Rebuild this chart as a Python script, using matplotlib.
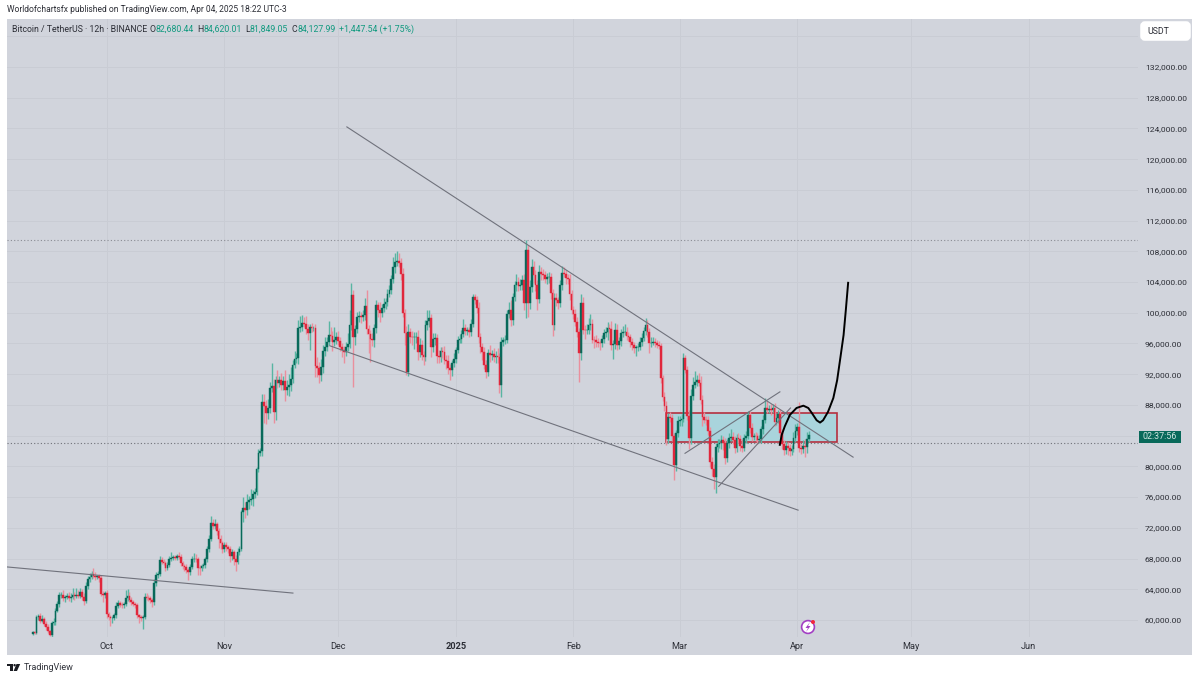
import numpy as np
import pandas as pd
import matplotlib
matplotlib.use('Agg')
import matplotlib.pyplot as plt
import matplotlib.dates as mdates
from matplotlib.patches import Rectangle, Circle, Polygon, FancyBboxPatch
from matplotlib.transforms import IdentityTransform

plt.rcParams['font.family'] = ['Roboto', 'DejaVu Sans']

# 12h closes, in thousands of USDT, month by month
closes_sep = [58.4,58.3,60.4,60.5,59.9,60.1,59.5,59.1,58.5,58.0,
              59.6,59.7,61.2,62.1,63.2,63.3,62.9,63.0,63.1,62.8,
              63.0,63.2,63.1,63.2,63.1,63.6,63.0,62.5,64.4,65.3,
              65.6,66.0,65.7,65.6,65.7,65.5,63.4,63.2,63.5]
closes_oct = [60.8,60.4,60.2,60.3,60.6,61.8,62.2,62.0,61.9,62.1,
              62.9,63.1,62.6,62.3,62.1,61.9,60.6,60.4,60.2,60.4,
              63.0,62.9,62.8,62.6,62.3,64.8,65.9,66.0,67.8,67.6,
              67.4,66.8,67.2,68.0,68.1,68.2,68.1,68.3,68.2,67.4,
              67.0,66.9,66.5,66.2,66.9,67.9,68.0,67.9,66.8,66.7,
              67.0,67.1,67.9,69.2,70.6,72.6,72.2,72.5,71.6,70.6,
              70.0,69.3]
closes_nov = [69.8,69.5,69.3,68.3,68.8,68.0,67.6,68.9,69.3,74.0,
              74.6,74.3,75.4,75.6,75.8,76.4,76.6,79.6,81.8,82.0,
              88.4,87.9,87.0,87.6,90.2,90.4,87.1,91.2,90.9,91.2,
              90.6,91.1,90.0,90.3,90.6,91.4,93.2,94.0,94.1,98.0,
              98.2,98.7,98.6,97.9,97.4,98.2,98.0,98.0,93.1,92.8,
              91.9,93.0,95.0,95.5,96.2,97.1,97.0,96.2,96.5,96.8]
closes_dec = [96.3,95.6,95.2,94.9,95.6,95.9,98.4,102.3,96.8,97.9,
              99.4,99.6,99.4,99.7,100.9,97.9,97.2,96.6,96.5,98.0,
              101.0,100.4,100.0,100.6,101.1,101.4,102.4,103.0,104.4,106.0,
              106.6,106.8,106.5,105.0,100.0,97.3,92.3,97.5,96.9,96.8,
              96.8,96.9,94.9,95.8,94.5,94.2,98.4,98.9,99.3,95.5,
              96.6,96.7,94.4,94.2,95.0,94.9,93.9,93.7,92.8,92.6,
              93.5,94.0]
closes_jan = [95.2,96.5,96.6,97.2,98.0,97.6,97.7,97.5,98.6,102.0,
              101.6,100.6,96.8,95.6,94.9,93.2,92.3,94.8,94.5,94.6,
              94.2,94.4,94.2,90.6,96.2,96.4,96.5,99.8,100.4,99.0,
              102.0,103.6,104.0,103.5,103.6,104.3,101.3,108.2,101.3,103.4,
              106.0,104.9,103.6,101.8,105.3,105.1,104.9,104.4,104.6,104.7,
              102.6,98.4,101.9,101.6,101.3,103.6,105.2,105.0,104.5,104.4,
              102.4,100.4]
closes_feb = [99.8,98.8,97.5,94.8,101.3,97.8,97.7,97.8,98.4,98.6,
              96.5,96.4,96.2,96.1,96.0,96.6,97.3,97.5,98.0,97.9,
              95.8,95.9,97.8,95.8,96.3,97.3,97.5,97.5,97.0,96.8,
              96.2,95.8,95.4,95.5,95.6,96.2,96.7,97.6,98.4,97.5,
              96.0,96.1,96.2,96.0,95.8,95.7,91.5,89.0,87.9,83.6,
              86.4,86.3,84.0,80.2,84.3,85.9]
closes_mar = [86.0,86.2,94.1,92.6,86.6,83.7,89.2,90.6,91.0,91.2,
              90.9,88.7,86.4,86.1,86.0,84.6,80.6,79.6,78.6,82.5,
              82.9,83.0,83.4,83.1,81.1,83.0,83.7,83.8,83.4,82.4,
              83.7,83.5,82.6,82.4,83.7,84.0,86.7,85.0,83.8,84.0,
              83.9,83.4,83.5,84.8,86.0,87.6,87.4,87.5,87.3,87.6,
              85.8,86.3,86.8,84.3,82.9,82.1,82.7,82.4,82.0,82.3,
              83.7,84.6]
closes_apr = [85.1,82.4,82.2,82.7,82.5,83.6,84.13]

# wick lengths above and below the candle body, same units
upper_sep = [.2,.2,.3,.3,.4,.5,.3,.3,.4,.2,
             .3,.5,.3,.4,.4,.3,.6,.3,.4,.5,
             .5,.9,.4,1.0,.7,.6,.4,.5,.5,.4,
             .5,.4,.8,.5,.2,.3,.3,.4,.3]
lower_sep = [.1,.1,.1,.4,.3,.2,.3,.4,.2,.1,
             .3,.3,.3,.2,.4,.3,.4,.5,.3,.3,
             .4,.3,.5,.3,.3,.2,.4,.5,.3,.4,
             .4,.3,.3,.4,.3,.5,.3,.8,.4]
upper_oct = [.4,.2,.3,.2,.3,.5,.4,.3,.3,.3,
             1.0,.9,.6,.4,.3,.3,.3,.2,.3,.3,
             .5,.5,.3,.3,.3,.5,.3,.4,.5,.4,
             .3,.3,.3,.3,.8,.3,.3,.3,.6,.4,
             .3,.3,.4,.3,.4,.4,.7,.6,.3,.3,
             .3,.3,.3,.4,.4,.9,.5,.6,.3,.4,
             .4,.3]
lower_oct = [.5,.4,1.0,.6,.3,.3,.3,.3,.3,.3,
             .3,.4,.3,.3,.3,.3,.3,.8,.4,1.4,
             .3,.3,.3,.4,.6,.3,.4,.5,.3,.3,
             .3,.4,.3,.3,.3,.3,.3,.3,.3,.4,
             .4,.5,.4,1.0,.3,.3,.3,.3,1.0,.8,
             .3,.3,.3,.3,.3,.3,.3,.3,.5,1.2,
             .8,.6]
upper_nov = [.4,.3,.3,.3,.4,.3,.5,.5,.3,.3,
             1.4,.8,1.0,.6,1.2,.5,.6,.3,.4,.4,
             1.0,1.0,.8,1.2,.8,3.0,1.0,.6,1.3,.5,
             .9,.6,1.4,1.0,1.4,1.5,.7,1.0,.7,1.0,
             1.4,1.0,.7,1.0,.7,.4,.5,.3,.6,1.2,
             .8,1.0,.8,1.3,.6,1.8,1.0,.6,1.6,.7]
lower_nov = [.4,.5,.6,.7,.5,.8,1.2,.3,.4,.3,
             1.2,1.0,.6,.9,.6,.9,.5,.3,.4,.4,
             .6,2.2,1.5,.8,.7,.5,1.4,1.0,.7,.6,
             .7,.6,1.5,.7,1.2,.8,.6,.4,.5,.8,
             .5,.6,.5,.7,1.0,2.2,.5,.4,1.5,1.2,
             1.0,.8,.8,.6,.5,.4,.7,1.2,.5,.6]
upper_dec = [.8,.6,.4,.5,.6,1.4,2.0,1.6,.6,.5,
             .7,.6,.5,.6,1.0,2.0,.5,.6,.8,.5,
             .6,.4,1.0,.6,.8,.5,.7,.6,.5,1.2,
             1.2,1.3,1.0,.6,.8,.5,1.0,1.0,.5,.7,
             .7,.6,.8,.9,.6,.5,.7,1.5,1.0,.5,
             .8,.6,.5,.7,.6,.5,.8,.6,.8,.5,
             .4,.7]
lower_dec = [.5,.6,1.0,1.5,.5,.6,.5,.6,6.5,1.0,
             .5,.6,.7,.5,.6,.7,2.5,3.0,.8,1.0,
             .6,1.0,1.2,.6,.5,.6,.5,.4,.6,.5,
             .8,.5,.6,.8,.6,1.5,.4,.6,.8,1.0,
             1.5,.8,1.0,.6,.7,1.0,.5,.6,.8,1.2,
             .6,.8,1.0,.7,.6,.8,.6,1.0,.8,1.4,
             .8,.5]
upper_jan = [.4,.5,.6,.5,1.2,.6,.5,.5,.6,.5,
             .4,.6,.8,.5,.5,.6,.6,.5,1.0,.6,
             .8,.6,1.0,.5,.6,.5,.6,.6,1.0,1.2,
             .6,.5,1.0,.7,.8,.6,.8,1.3,.6,.8,
             1.0,.8,.7,.6,.9,.7,.6,.5,.6,.6,
             .5,.5,.7,.7,.5,.6,.9,.7,.6,.5,
             .6,.5]
lower_jan = [.6,.4,.5,.6,.4,.5,.5,.6,.5,.4,
             .5,.6,.7,.8,1.0,.5,.8,.6,.9,.6,
             .6,.7,.8,1.0,1.6,.5,.5,.4,.5,.7,
             .6,.5,.8,.7,.5,.6,1.0,2.0,1.9,.8,
             .7,1.0,.8,1.4,.5,.8,.6,.5,.6,.7,
             .8,1.4,.6,.7,.8,.5,.6,.4,.7,.6,
             .7,.6]
upper_feb = [.5,.7,.6,.5,1.2,.8,.6,.7,.9,1.3,
             .6,.5,.7,.5,.4,.5,.6,.7,.8,.6,
             1.0,.6,.9,.7,.5,.6,.8,1.0,.7,.5,
             .4,.5,.4,.3,.5,.6,.7,.6,.9,.6,
             .5,.7,.6,.5,.4,.5,.3,.4,.7,.6,
             .5,.7,.5,.4,.4,.7]
lower_feb = [.6,.5,.6,3.8,.9,.6,1.1,.5,.6,.7,
             .5,1.0,.6,.5,.8,.5,.6,.5,1.0,.6,
             .7,1.8,.6,.7,.5,.6,.5,.4,.6,.5,
             .6,.7,.6,1.0,.5,.4,.5,.4,.5,.6,
             1.2,.4,.3,.5,.4,.4,.6,.5,.7,.8,
             .6,.5,.7,2.0,.8,.5]
upper_mar = [.5,.6,.6,.4,.5,.8,.9,1.0,1.4,.7,
             .9,.8,.6,.7,.5,.6,.5,.6,.7,.6,
             .6,.5,.7,.5,.6,.5,.6,1.0,.7,.6,
             .5,.7,.6,.9,.5,.6,.5,.5,.7,.4,
             .5,.5,.6,.5,.7,1.3,.9,.5,.6,.5,
             .7,.6,.5,.7,.6,.5,.6,.5,.5,.5,
             .8,.9]
lower_mar = [.6,.7,.4,.5,.6,1.5,.8,.5,.4,.6,
             .5,.6,1.2,.5,.6,.5,.7,.9,1.6,2.1,
             .6,.5,.7,1.0,.8,.5,.6,.4,.5,.6,
             .5,.4,.6,.5,.4,.6,.5,.7,.5,.4,
             .6,.5,.4,.5,.6,.4,.5,.4,.6,.3,
             .5,.4,.6,.5,.7,.6,.5,.9,.6,.5,
             .4,.5]
upper_apr = [.6,3.3,.5,.7,.8,.9,.5]
lower_apr = [.5,.5,.6,.5,1.3,.7,.4]

first_open = 58.2
first_candle = '2024-09-11 12:00'

price_ticks = list(range(60000, 140000, 4000))
hidden_prices = [84000, 136000]  # under the countdown tag and the USDT button
month_ticks = ['2024-10-01', '2024-11-01', '2024-12-01', '2025-01-01', '2025-02-01',
               '2025-03-01', '2025-04-01', '2025-05-01', '2025-06-01']
month_labels = ['Oct', 'Nov', 'Dec', '2025', 'Feb', 'Mar', 'Apr', 'May', 'Jun']

# drawings on the chart: (start, end) dates and prices
upper_trend_x = ['2024-12-03 07:00', '2025-04-15 17:00']
upper_trend_y = [124200, 81200]
lower_trend_x = ['2024-11-28 19:00', '2025-04-01 05:00']
lower_trend_y = [95700, 74300]
old_trend_x = ['2024-09-04 19:00', '2024-11-19 02:00']
old_trend_y = [66900, 63500]
wedge_top_x = ['2025-03-02 10:00', '2025-03-27 10:00']
wedge_top_y = [81700, 89700]
wedge_bottom_x = ['2025-03-11 07:00', '2025-03-30 05:00']
wedge_bottom_y = [77400, 87600]
box_x = ['2025-02-25 07:00', '2025-04-11 10:00']
box_y = [83200, 87000]
# hand drawn path, days after 1 Oct 2024 and price
path_days = [177.4,177.9,178.7,180.05,181.8,183.6,184.9,185.9,187.1,188.0,
             188.8,190.1,191.5,192.5,193.4,194.2,194.8,195.4]
path_price = [82800,84100,85200,86700,87600,87900,87600,86900,86000,85700,
              86000,87100,88900,91200,94300,97100,100400,103900]
high_line = 109500
last_line = 83050

closes = np.array(closes_sep + closes_oct + closes_nov + closes_dec + closes_jan
                  + closes_feb + closes_mar + closes_apr) * 1000
upper = np.array(upper_sep + upper_oct + upper_nov + upper_dec + upper_jan
                 + upper_feb + upper_mar + upper_apr) * 1000
lower = np.array(lower_sep + lower_oct + lower_nov + lower_dec + lower_jan
                 + lower_feb + lower_mar + lower_apr) * 1000
opens = np.concatenate([[first_open * 1000], closes[:-1]])
highs = np.maximum(opens, closes) + upper
lows = np.minimum(opens, closes) - lower
dates = mdates.date2num(pd.date_range(first_candle, periods=len(closes), freq='12h'))

PANEL = '#d1d4dc'
GRID = '#c9ccd4'
TEXT = '#2c2e36'
UP_BODY = '#08695a'
UP_WICK = '#58b5a2'
DOWN_BODY = '#e0273c'
DOWN_WICK = '#ea8f9d'
TEAL_TEXT = '#129a80'
LINE = '#70727c'

fig = plt.figure(figsize=(12, 6.8), dpi=100, facecolor='white')
ax = fig.add_axes([7 / 1200, 1 - 637 / 680, 1131 / 1200, 618 / 680])
ax.patch.set_visible(False)


# position things by pixel of the 1200x680 picture
def put(x, y, s, **kw):
    kw.setdefault('color', TEXT)
    kw.setdefault('fontsize', 6.3)
    fig.text(x / 1200, 1 - y / 680, s, va='center', **kw)


def px(x, y):
    return (x, 680 - y)


fig.add_artist(Rectangle(px(7, 655), 1185, 636, transform=IdentityTransform(),
                         facecolor=PANEL, edgecolor='none', zorder=-5))

ax.set_xlim(mdates.date2num(pd.Timestamp('2024-09-04 17:30')),
            mdates.date2num(pd.Timestamp('2025-06-29 19:00')))
ax.set_ylim(57780, 138250)

for side in ax.spines.values():
    side.set_visible(False)
ax.yaxis.tick_right()
ax.set_yticks(price_ticks)
ax.set_yticklabels(['' if p in hidden_prices else '{:,.2f}'.format(p) for p in price_ticks],
                   fontsize=6.1, color=TEXT)
ax.set_xticks(mdates.date2num(pd.to_datetime(month_ticks)))
ax.set_xticklabels(month_labels, fontsize=6.6, color=TEXT)
ax.get_xticklabels()[3].set_fontweight('bold')
ax.tick_params(axis='both', length=0)
ax.tick_params(axis='y', pad=5)
ax.tick_params(axis='x', pad=3.5)
ax.grid(True, color=GRID, linewidth=0.7)
ax.set_axisbelow(True)

# rectangle zone under the candles
box_left, box_right = mdates.date2num(pd.to_datetime(box_x))
ax.add_patch(Rectangle((box_left, box_y[0]), box_right - box_left, box_y[1] - box_y[0],
                       facecolor='#a9d4dc', edgecolor='#b5303f', linewidth=1.2, zorder=1))

# candles
up = closes >= opens
ax.vlines(dates[up], lows[up], highs[up], color=UP_WICK, linewidth=1.0, zorder=2)
ax.vlines(dates[~up], lows[~up], highs[~up], color=DOWN_WICK, linewidth=1.0, zorder=2)
ax.bar(dates[up], (closes - opens)[up], bottom=opens[up], width=0.46,
       color=UP_BODY, edgecolor=UP_BODY, linewidth=0.3, zorder=3)
ax.bar(dates[~up], (opens - closes)[~up], bottom=closes[~up], width=0.46,
       color=DOWN_BODY, edgecolor=DOWN_BODY, linewidth=0.3, zorder=3)

# trend lines
for xs, ys in [(upper_trend_x, upper_trend_y), (lower_trend_x, lower_trend_y),
               (old_trend_x, old_trend_y), (wedge_top_x, wedge_top_y),
               (wedge_bottom_x, wedge_bottom_y)]:
    ax.plot(mdates.date2num(pd.to_datetime(xs)), ys, color=LINE, linewidth=0.8, zorder=4)

path_x = mdates.date2num(pd.Timestamp('2024-10-01') + pd.to_timedelta(path_days, unit='D'))
ax.plot(path_x, path_price, color='black', linewidth=1.4, solid_joinstyle='round', zorder=5)

ax.axhline(high_line, color='#8a8c94', linewidth=0.8, linestyle=(0, (1, 2)), zorder=1)
ax.axhline(last_line, color='#6f7178', linewidth=0.8, linestyle=(0, (1, 2)), zorder=1)

# header
put(7, 10, 'Worldofchartsfx published on TradingView.com, Apr 04, 2025 18:22 UTC-3', fontsize=6.15)
put(12.5, 29, 'Bitcoin / TetherUS · 12h · BINANCE')
for x, s in [(150, 'O'), (197, 'H'), (245, 'L'), (292, 'C')]:
    put(x, 29, s)
for x, s in [(155.5, '82,680.44'), (203, '84,620.01'), (250, '81,849.05'), (297, '84,127.99'),
             (339, '+1,447.54 (+1.75%)')]:
    put(x, 29, s, color=TEAL_TEXT)

# currency button
fig.add_artist(FancyBboxPatch(px(1143, 38), 45, 14, boxstyle='round,pad=0,rounding_size=2',
                              mutation_aspect=1, transform=IdentityTransform(),
                              facecolor='white', edgecolor='white', linewidth=4))
put(1147, 31, 'USDT', fontsize=6.3)

# countdown tag
fig.add_artist(Rectangle(px(1139, 443), 42, 12.5, transform=IdentityTransform(),
                         facecolor=UP_BODY, edgecolor='none', zorder=3))
put(1160, 436.8, '02:37:56', color='#cfe5e0', fontsize=6.4, ha='center', zorder=4)

# lightning badge
fig.add_artist(Circle(px(808, 627), 6.4, transform=IdentityTransform(), facecolor='white',
                      edgecolor='#a33fc4', linewidth=1.2, zorder=6))
fig.add_artist(Polygon([px(810, 622), px(805.5, 628), px(808, 628), px(806, 632),
                        px(810.5, 626), px(808, 626)], transform=IdentityTransform(),
                       facecolor='#a33fc4', edgecolor='none', zorder=7))
fig.add_artist(Circle(px(813, 622), 2, transform=IdentityTransform(), facecolor='#f2273c',
                      edgecolor='none', zorder=8))

# TradingView logo
for pts in ([px(7, 664), px(12.8, 664), px(12.8, 671), px(10, 671), px(10, 666.3), px(7, 666.3)],
            [px(16.5, 664), px(20.2, 664), px(17, 671), px(13.6, 671)]):
    fig.add_artist(Polygon(pts, transform=IdentityTransform(), facecolor='#1a1c22', edgecolor='none'))
fig.add_artist(Circle(px(14.6, 665.2), 1.2, transform=IdentityTransform(), facecolor='#1a1c22', edgecolor='none'))
put(24, 667.5, 'TradingView', fontsize=6.5, color='#30323a')

fig.savefig('out.png', dpi=100, facecolor='white')
